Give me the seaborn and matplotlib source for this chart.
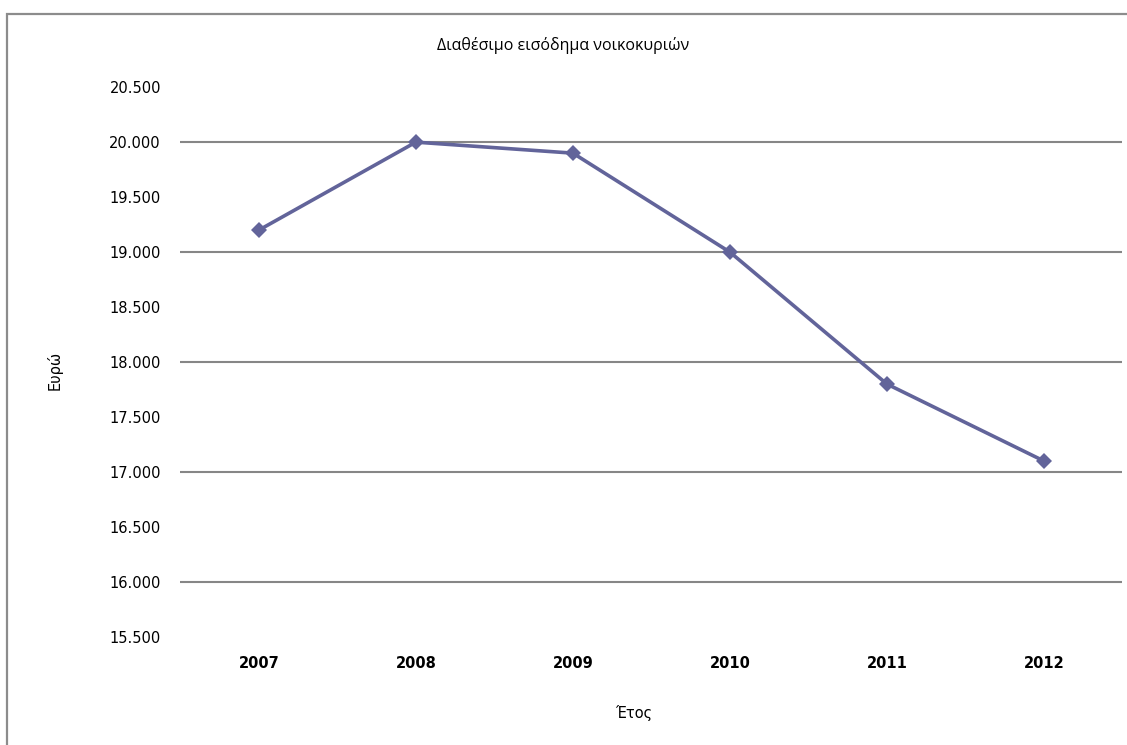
import matplotlib
matplotlib.use('Agg')
import matplotlib.pyplot as plt
from matplotlib.ticker import MultipleLocator, FuncFormatter
from matplotlib.patches import Rectangle
import pandas as pd
import seaborn as sns

years = [2007, 2008, 2009, 2010, 2011, 2012]
income = [19200, 20000, 19900, 19000, 17800, 17100]

title = 'Διαθέσιμο εισόδημα νοικοκυριών'
ylabel = 'Ευρώ'
xlabel = 'Έτος'

df = pd.DataFrame({'year': years, 'income': income})

sns.set_style('white')
plt.rcParams['font.family'] = ['DejaVu Sans']
plt.rcParams['text.color'] = 'black'
plt.rcParams['xtick.color'] = 'black'
plt.rcParams['ytick.color'] = 'black'

fig = plt.figure(figsize=(11.27, 7.45), dpi=100)
ax = fig.add_axes([0.160, 0.145, 0.836, 0.738])

# outer chart frame (excel style, cut at right/bottom)
fig.patches.append(Rectangle((7 / 1127, -0.05), 1.2, 1 - 14 / 745 + 0.05,
                             transform=fig.transFigure, fill=False,
                             edgecolor='#8c8c8c', linewidth=1.6))

sns.lineplot(data=df, x='year', y='income', ax=ax, color='#62649a',
             linewidth=2.6, marker='D', markersize=8, markeredgewidth=0)

fmt = FuncFormatter(lambda v, p: f'{int(v):,}'.replace(',', '.'))

ax.set_xlim(years[0] - 0.5, years[-1] + 0.5)
ax.set_ylim(15500, 20500)
ax.set_xticks(years)
ax.set_xticklabels([str(y) for y in years], fontweight='bold', fontsize=10.5)
# gridlines every 1000, labels every 500 (minor ticks fill the gaps)
ax.yaxis.set_major_locator(MultipleLocator(1000))
ax.yaxis.set_minor_locator(MultipleLocator(500))
ax.yaxis.set_major_formatter(fmt)
ax.yaxis.set_minor_formatter(fmt)
ax.tick_params(axis='y', which='both', labelsize=10.5, length=0, pad=14)
ax.tick_params(axis='x', length=0, pad=14)
ax.grid(False)
ax.grid(True, which='major', axis='y', color='#868686', linewidth=1.5)
for s in ax.spines.values():
    s.set_visible(False)

ax.set_xlabel('')
ax.set_ylabel('')
fig.text(563 / 1127, 1 - 45 / 745, title, ha='center', va='center',
         fontsize=11.5, family=['Open Sans', 'DejaVu Sans'])
fig.text(55 / 1127, 1 - 370 / 745, ylabel, ha='center', va='center',
         rotation=90, fontsize=10.5)
fig.text(634 / 1127, 1 - 713 / 745, xlabel, ha='center', va='center',
         fontsize=10.5)

fig.savefig('out.png', dpi=100, facecolor='white')
